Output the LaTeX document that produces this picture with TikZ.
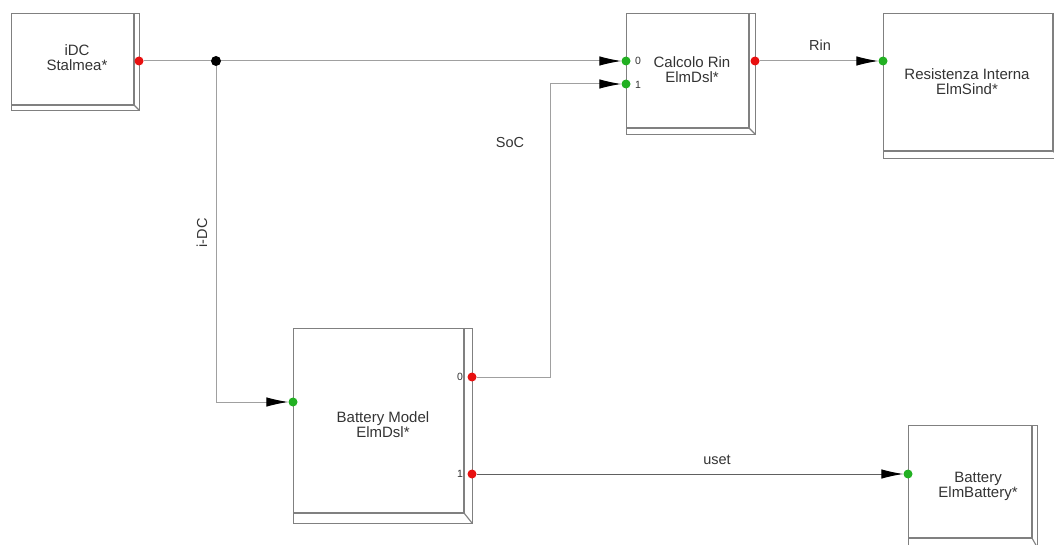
\documentclass[tikz,border=0pt]{standalone}
\usepackage{fontspec}
\setmainfont{Liberation Sans}
\usetikzlibrary{arrows.meta,backgrounds}
\definecolor{boxc}{HTML}{808080}
\definecolor{connc}{HTML}{A0A0A0}
\definecolor{darkc}{HTML}{606060}
\definecolor{txtc}{HTML}{333333}
\definecolor{redp}{HTML}{E81010}
\definecolor{grnp}{HTML}{22B022}
\tikzset{
  boxline/.style={draw=boxc, line width=1.1pt},
  blocktext/.style={text=txtc, align=center, font=\fontsize{15}{15}\selectfont, inner sep=0pt},
  portlabel/.style={text=txtc, font=\fontsize{10.5}{11}\selectfont, inner sep=0pt},
  wirelabel/.style={text=txtc, font=\fontsize{14.5}{15}\selectfont, inner sep=0pt},
  port/.style={circle, inner sep=0pt, minimum size=9pt},
  conn/.style={draw=connc, line width=1pt},
  darkconn/.style={draw=darkc, line width=1pt},
  arr/.style={-{Latex[length=22pt,width=9.5pt,color=black]}},
}
% name, left, top, inner right, inner bottom, outer right, outer bottom
\newcommand\threedbox[7]{%
  \node[boxline, rectangle, inner sep=0pt, anchor=north west,
        minimum width={(#6-#2)*1pt}, minimum height={(#7-#3)*1pt}] (#1) at (#2,#3) {};
  \draw[boxline] (#4,#3) -- (#4,#5) -- (#2,#5);
  \draw[boxline] (#4,#5) -- (#6,#7);
}
\begin{document}
\begin{tikzpicture}[x=1pt,y=-1pt]
\useasboundingbox (0,0) rectangle (1054,545);
\clip (0,0) rectangle (1054,545);

% blocks
\threedbox{idc}{11}{13}{134}{105}{139}{110}
\threedbox{calc}{626}{13}{749}{128}{755}{134}
\threedbox{res}{883}{13}{1053}{151}{1059}{158}
\threedbox{bm}{293}{328}{464}{513}{472}{523}
\threedbox{bat}{908}{425}{1032}{538}{1037}{547}

\node[blocktext] (idct) at (77,58) {iDC\\Stalmea*};
\node[blocktext] (calct) at (692,70) {Calcolo Rin\\ElmDsl*};
\node[blocktext] (rest) at (967,82) {Resistenza Interna\\ElmSind*};
\node[blocktext] (bmt) at (383,425) {Battery Model\\ElmDsl*};
\node[blocktext] (batt) at (978,486) {Battery\\ElmBattery*};

% ports
\node[port, fill=redp] (idco) at (139,61) {};
\node[port, fill=black, minimum size=10pt] (jn) at (216,61) {};
\node[port, fill=grnp] (calci0) at (626,61) {};
\node[port, fill=grnp] (calci1) at (626,84) {};
\node[port, fill=redp] (calco) at (755,61) {};
\node[port, fill=grnp] (resi) at (883,61) {};
\node[port, fill=grnp] (bmi) at (293,402) {};
\node[port, fill=redp] (bmo0) at (472,377) {};
\node[port, fill=redp] (bmo1) at (472,474) {};
\node[port, fill=grnp] (bati) at (908,474) {};

\node[portlabel] (l0a) at (638,61) {0};
\node[portlabel] (l1a) at (638,85) {1};
\node[portlabel] (l0b) at (460,377) {0};
\node[portlabel] (l1b) at (460,474) {1};

\coordinate (socbend) at (550,377);

% connectors
\begin{scope}[on background layer]
\draw[conn, arr] (idco) -- (calci0);
\draw[conn, arr] (jn) |- (bmi);
\draw[conn, arr] (bmo0) -- (socbend) |- (calci1);
\draw[conn, arr] (calco) -- (resi);
\draw[darkconn, arr] (bmo1) -- (bati);
\end{scope}

% wire labels
\node[wirelabel] (rin) at (820,45) {Rin};
\node[wirelabel] (uset) at (717,460) {uset};
\node[wirelabel] (soc) at (510,143) {SoC};
\node[wirelabel, rotate=90] (idcl) at (202,233) {i-DC};
\end{tikzpicture}
\end{document}
